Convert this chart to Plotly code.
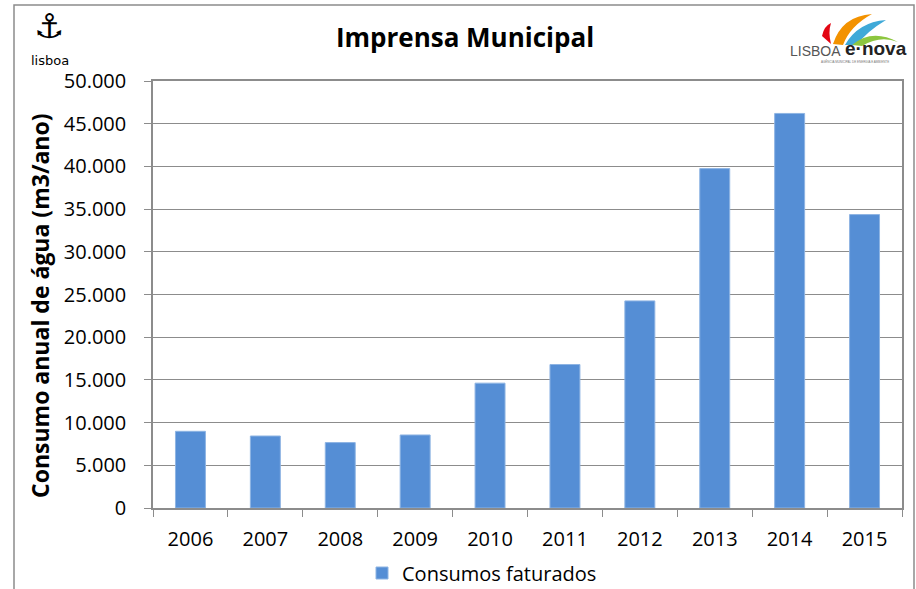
import plotly.graph_objects as go

years = ["2006", "2007", "2008", "2009", "2010", "2011", "2012", "2013", "2014", "2015"]
consumos = [8980, 8430, 7660, 8550, 14620, 16800, 24250, 39740, 46200, 34360]
series_name = "Consumos faturados"
title_text = "Imprensa Municipal"
y_title = "Consumo anual de água (m3/ano)"

W, H = 916, 589
L, R, T, B = 153, 14, 81, 81
PW, PH = W - L - R, H - T - B


def px(x):
    return (x - L) / PW


def py(y):
    return (H - B - y) / PH


FONT = "Open Sans"
BLUE = "#558ED5"

fig = go.Figure()
fig.add_trace(go.Bar(
    x=years, y=consumos, name=series_name,
    marker=dict(color=BLUE, line=dict(color="#8EB4E3", width=1)),
    showlegend=True,
))

shapes = [
    # outer chart frame
    dict(type="rect", xref="paper", yref="paper",
         x0=px(14), x1=px(914), y0=py(600), y1=py(5),
         line=dict(color="#8c8c8c", width=1.5), layer="below"),
    # e-nova leaves (decoration)
    dict(type="path", xref="paper", yref="paper",
         path=f"M {px(833)},{py(44)} Q {px(842)},{py(16)} {px(872)},{py(14)} Q {px(850)},{py(26)} {px(843)},{py(45)} Z",
         fillcolor="#F39200", line=dict(width=0)),
    dict(type="path", xref="paper", yref="paper",
         path=f"M {px(845)},{py(45)} Q {px(858)},{py(22)} {px(886)},{py(20)} Q {px(866)},{py(32)} {px(857)},{py(45)} Z",
         fillcolor="#3FA9D8", line=dict(width=0)),
    dict(type="path", xref="paper", yref="paper",
         path=f"M {px(852)},{py(45)} Q {px(872)},{py(28)} {px(898)},{py(42)} Q {px(880)},{py(35)} {px(862)},{py(46)} Z",
         fillcolor="#8DC63F", line=dict(width=0)),
    dict(type="path", xref="paper", yref="paper",
         path=f"M {px(822)},{py(36)} Q {px(824)},{py(26)} {px(831)},{py(23)} Q {px(828)},{py(32)} {px(831)},{py(44)} Z",
         fillcolor="#E30613", line=dict(width=0)),
]

annotations = [
    dict(text=f"<b>{y_title}</b>", xref="paper", yref="paper",
         x=px(40), y=py(306), textangle=-90, showarrow=False,
         font=dict(family=FONT, size=23, color="#000"),
         xanchor="center", yanchor="middle"),
    # Lisboa logo
    dict(text="<b>⚓</b>", xref="paper", yref="paper", x=px(49), y=py(26),
         showarrow=False, font=dict(family="DejaVu Sans", size=34, color="#000"),
         xanchor="center", yanchor="middle"),
    dict(text="lisboa", xref="paper", yref="paper", x=px(50), y=py(61),
         showarrow=False, font=dict(family="DejaVu Sans", size=13, color="#000"),
         xanchor="center", yanchor="middle"),
    # e-nova logo text
    dict(text="LISBOA", xref="paper", yref="paper", x=px(843), y=py(51),
         showarrow=False, font=dict(family="Liberation Sans Narrow, Liberation Sans", size=14, color="#555"),
         xanchor="right", yanchor="middle"),
    dict(text="<b>e·nova</b>", xref="paper", yref="paper", x=px(843), y=py(49),
         showarrow=False, font=dict(family="Liberation Sans", size=19, color="#222"),
         xanchor="left", yanchor="middle"),
    dict(text="AGÊNCIA MUNICIPAL DE ENERGIA E AMBIENTE", xref="paper", yref="paper",
         x=px(855), y=py(62), showarrow=False,
         font=dict(family="Liberation Sans", size=3, color="#777"),
         xanchor="center", yanchor="middle"),
]

fig.update_layout(
    width=W, height=H,
    margin=dict(l=L, r=R, t=T, b=B, pad=0),
    paper_bgcolor="white", plot_bgcolor="white",
    separators=",.",
    font=dict(family=FONT, size=20, color="#000"),
    title=dict(text=f"<b>{title_text}</b>", x=465 / W, xanchor="center",
               y=1 - 38 / H, yanchor="middle",
               font=dict(family=FONT, size=26, color="#000")),
    bargap=0.6,
    showlegend=True,
    legend=dict(orientation="h", x=362 / W, xanchor="left", xref="container",
                y=1 - 573 / H, yanchor="middle", yref="container",
                font=dict(family=FONT, size=20, color="#000"), bgcolor="rgba(0,0,0,0)"),
    xaxis=dict(type="category", showline=True, linecolor="#8c8c8c", linewidth=1.5,
               mirror=True, ticks="outside", tickson="boundaries", ticklen=7,
               tickcolor="#8c8c8c", tickfont=dict(family=FONT, size=20),
               ticklabelstandoff=12, showgrid=False, automargin=False),
    yaxis=dict(range=[0, 50000], dtick=5000, tickformat=",d", showline=True,
               linecolor="#8c8c8c", linewidth=1.5, mirror=True, ticks="outside",
               ticklen=7, tickcolor="#8c8c8c", gridcolor="#8c8c8c", gridwidth=1.2,
               tickfont=dict(family=FONT, size=20), ticklabelstandoff=14,
               zeroline=False, automargin=False),
    shapes=shapes,
    annotations=annotations,
)

fig.write_html("out.html", config={"displayModeBar": False},
               post_script="document.body.style.margin='0';")
